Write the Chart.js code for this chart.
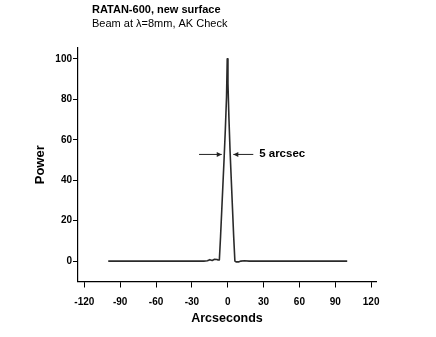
<!DOCTYPE html>
<html>
<head>
<meta charset="utf-8">
<script src="https://cdn.jsdelivr.net/npm/chart.js@4/dist/chart.umd.min.js"></script>
<style>
html,body{margin:0;padding:0;background:#fff;}
#c{display:block;}
</style>
</head>
<body>
<canvas id="c" width="436" height="337"></canvas>
<script>
// ---- data ----
const titleLines = ["RATAN-600, new surface", "Beam at \u03bb=8mm, AK Check"];
const arcsec = [-100, -60, -20, -17, -15, -13, -11, -9, -8, -7, -6, -5, -4, -3, -2, -1, -0.4,
                0.2, 1, 2, 3, 4, 5, 6, 7, 9, 11, 14, 18, 60, 100];
const power  = [0, 0, 0, 0.2, 0.7, 0.3, 0.9, 0.8, 0.5, 0.5, 12, 25, 38, 51, 65, 81, 100,
                88, 71, 54, 40, 26, 12, 0, -0.4, -0.4, 0, 0.2, 0, 0, 0];
const xTicks = [-120, -90, -60, -30, 0, 30, 60, 90, 120];
const yTicks = [0, 20, 40, 60, 80, 100];
const fwhmLabel = "5 arcsec";
const fwhmLevel = 53;          // power level of the FWHM arrows
const leftArrow = [-24, -5];   // arcsec, arrow pointing right
const rightArrow = [21.4, 4.7];// arcsec, arrow pointing left

const points = arcsec.map((x, i) => ({x: x, y: power[i]}));

const annot = {
  id: 'annot',
  afterDraw(chart) {
    const ctx = chart.ctx;
    const xs = chart.scales.x, ys = chart.scales.y;
    ctx.save();
    // titles
    ctx.fillStyle = '#000';
    ctx.textBaseline = 'middle';
    ctx.textAlign = 'left';
    ctx.font = 'bold 11px "Liberation Sans", Arial, sans-serif';
    ctx.fillText(titleLines[0], 92, 10);
    ctx.font = '11px "Liberation Sans", Arial, sans-serif';
    ctx.fillText(titleLines[1], 92, 24);
    // arrows
    const yp = ys.getPixelForValue(fwhmLevel);
    ctx.strokeStyle = '#222';
    ctx.fillStyle = '#222';
    ctx.lineWidth = 1;
    function arrow(a, b) {
      const x1 = xs.getPixelForValue(a), x2 = xs.getPixelForValue(b);
      ctx.beginPath();
      ctx.moveTo(x1, yp + 0.5); ctx.lineTo(x2, yp + 0.5); ctx.stroke();
      const d = x2 > x1 ? 1 : -1;
      ctx.beginPath();
      ctx.moveTo(x2, yp + 0.5);
      ctx.lineTo(x2 - d * 5, yp + 0.5 - 2.5);
      ctx.lineTo(x2 - d * 5, yp + 0.5 + 2.5);
      ctx.closePath(); ctx.fill();
    }
    arrow(leftArrow[0], leftArrow[1]);
    arrow(rightArrow[0], rightArrow[1]);
    ctx.fillStyle = '#000';
    ctx.font = 'bold 11.5px "Liberation Sans", Arial, sans-serif';
    ctx.textAlign = 'left';
    ctx.fillText(fwhmLabel, xs.getPixelForValue(26.3), yp);
    ctx.restore();
  }
};

new Chart(document.getElementById('c'), {
  type: 'scatter',
  data: {
    datasets: [{
      data: points,
      showLine: true,
      borderColor: '#2a2a2a',
      borderWidth: 1.6,
      borderJoinStyle: 'round',
      pointRadius: 0,
      tension: 0,
      fill: false
    }]
  },
  options: {
    responsive: false,
    animation: false,
    devicePixelRatio: 1,
    layout: {padding: {top: 48, right: 60, bottom: 0, left: 0}},
    plugins: {legend: {display: false}, tooltip: {enabled: false}},
    scales: {
      x: {
        type: 'linear',
        min: -125.3, max: 124.1,
        afterFit(s) { s.height = 55.5; },
        afterBuildTicks(s) { s.ticks = xTicks.map(v => ({value: v})); },
        grid: {drawOnChartArea: false, drawTicks: true, tickLength: 6, color: '#000', lineWidth: 1},
        border: {display: true, color: '#000', width: 1.2},
        ticks: {color: '#000', padding: 9, maxRotation: 0, autoSkip: false,
                font: {family: '"Liberation Sans", Arial, sans-serif', size: 10, weight: 'bold'}},
        title: {display: true, text: 'Arcseconds', color: '#000',
                padding: {top: 0, bottom: 11},
                font: {family: '"Liberation Sans", Arial, sans-serif', size: 12.5, weight: 'bold'}}
      },
      y: {
        type: 'linear',
        min: -10.1, max: 105.4,
        afterFit(s) { s.width = 78; },
        afterBuildTicks(s) { s.ticks = yTicks.map(v => ({value: v})); },
        grid: {drawOnChartArea: false, drawTicks: true, tickLength: 5, color: '#000', lineWidth: 1},
        border: {display: true, color: '#000', width: 1.2},
        ticks: {color: '#000', padding: 1,
                font: {family: '"Liberation Sans", Arial, sans-serif', size: 10, weight: 'bold'}},
        title: {display: true, text: 'Power', color: '#000',
                padding: {top: 32.5, bottom: 0},
                font: {family: '"Liberation Sans", Arial, sans-serif', size: 13, weight: 'bold'}}
      }
    }
  },
  plugins: [annot]
});
</script>
</body>
</html>
